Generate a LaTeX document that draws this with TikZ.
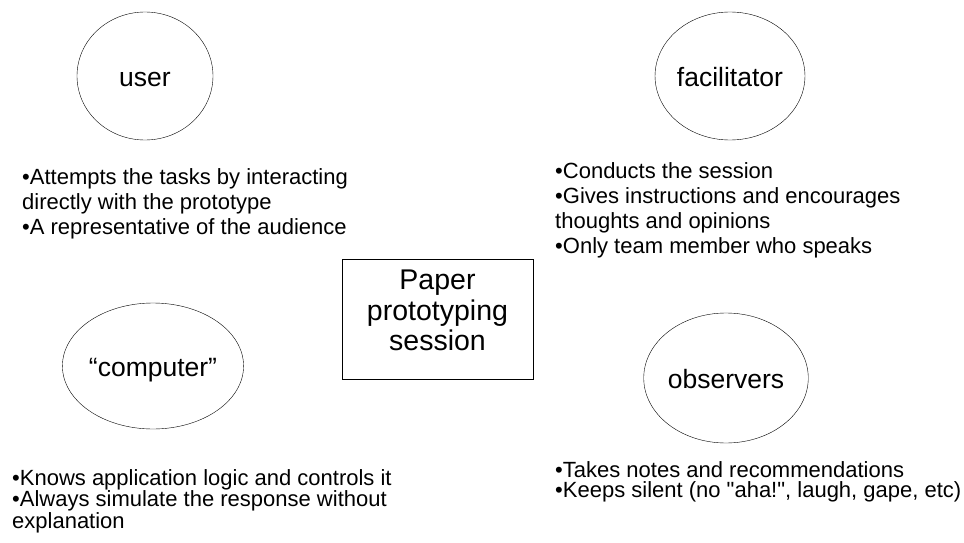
\documentclass[tikz,border=0pt]{standalone}
\usepackage{fontspec}
\newfontfamily\slidefont{Liberation Sans}
\usetikzlibrary{shapes.geometric}
\tikzset{line width=1pt,
  role/.style={draw,ellipse,inner sep=0pt,text height=20pt,text depth=0pt,
    font=\slidefont\fontsize{26.5}{30}\selectfont},
  notes/.style={anchor=north west,align=left,inner sep=0pt},
  sessionbox/.style={draw,rectangle,align=center,inner sep=0pt,
    minimum width=191pt,minimum height=120pt,text depth=17pt,
    font=\slidefont\fontsize{28.5}{30.5}\selectfont}}

\begin{document}
\begin{tikzpicture}[x=1pt,y=-1pt]
\useasboundingbox (0,0) rectangle (964,543);

% the four roles
\node[role,minimum width=136pt,minimum height=128pt] (user) at (145,76) {user};
\node[role,minimum width=136pt,minimum height=128pt] (facilitator) at (730,76) {facilitator};
\node[role,minimum width=158pt,minimum height=126pt] (computer) at (153,366) {“computer”};
\node[role,minimum width=146pt,minimum height=130pt] (observers) at (726,378) {observers};

% what each role does
\node[notes,font=\slidefont\fontsize{22}{25}\selectfont] (usernotes) at (22,168)
  {•Attempts the tasks by interacting\\directly with the prototype\\•A representative of the audience};
\node[notes,font=\slidefont\fontsize{22}{25}\selectfont] (facilnotes) at (555,162)
  {•Conducts the session\\•Gives instructions and encourages\\thoughts and opinions\\•Only team member who speaks};
\node[notes,font=\slidefont\fontsize{22}{21.5}\selectfont] (compnotes) at (12,469)
  {•Knows application logic and controls it\\•Always simulate the response without\\explanation};
\node[notes,font=\slidefont\fontsize{22}{20}\selectfont] (obsnotes) at (555,461)
  {•Takes notes and recommendations\\•Keeps silent (no "aha!", laugh, gape, etc)};

\node[sessionbox] (session) at (437.5,319) {Paper\\prototyping\\session};
\end{tikzpicture}
\end{document}
